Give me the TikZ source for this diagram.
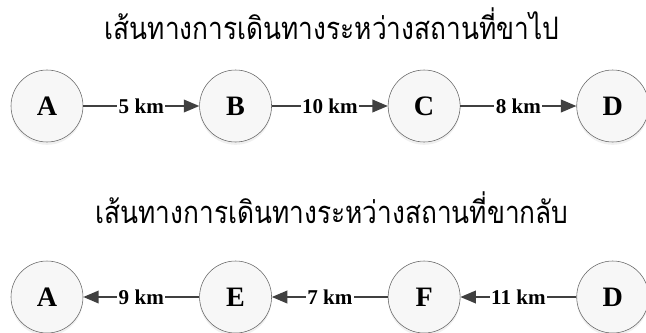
\documentclass[tikz,border=0pt]{standalone}
\usepackage{fontspec}
\setmainfont{Liberation Serif}
\newfontfamily\thaifont[Script=Thai,FakeStretch=0.85]{Loma}
\usetikzlibrary{arrows.meta,positioning,shadows}

\begin{document}
\begin{tikzpicture}[
    place/.style={circle, draw=black!60, fill=black!3, minimum size=1.8cm,
        font=\bfseries\fontsize{20}{20}\selectfont,
        drop shadow={opacity=0.12, shadow xshift=0pt, shadow yshift=-2pt}},
    road/.style={draw=black!75, line width=1.2pt, -{Triangle[length=11pt,width=9pt]}},
    dist/.style={fill=white, inner sep=1pt, font=\bfseries\fontsize{15}{15}\selectfont},
    heading/.style={font=\thaifont\fontsize{22}{22}\selectfont}]
    \useasboundingbox (0,0) rectangle (16.15,8.3);

    % Outbound route
    \node[heading] (out) at (8.3,7.7) {เส้นทางการเดินทางระหว่างสถานที่ขาไป};
    \node[place] (a1) at (1.175,5.65) {A};
    \node[place, right=2.9cm of a1] (b) {B};
    \node[place, right=2.9cm of b] (c) {C};
    \node[place, right=2.9cm of c] (d1) {D};
    \draw[road] (a1) -- node[dist] {5 km} (b);
    \draw[road] (b) -- node[dist] {10 km} (c);
    \draw[road] (c) -- node[dist] {8 km} (d1);

    % Return route
    \node[heading] (back) at (8.3,3.1) {เส้นทางการเดินทางระหว่างสถานที่ขากลับ};
    \node[place] (a2) at (1.175,0.875) {A};
    \node[place, right=2.9cm of a2] (e) {E};
    \node[place, right=2.9cm of e] (f) {F};
    \node[place, right=2.9cm of f] (d2) {D};
    \draw[road] (e) -- node[dist] {9 km} (a2);
    \draw[road] (f) -- node[dist] {7 km} (e);
    \draw[road] (d2) -- node[dist] {11 km} (f);
\end{tikzpicture}
\end{document}
